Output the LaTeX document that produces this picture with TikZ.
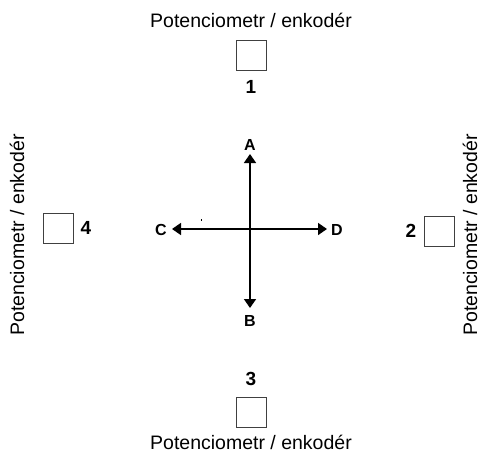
\documentclass[tikz,border=0pt]{standalone}
\usepackage{fontspec}
\setmainfont{Liberation Sans}
\usetikzlibrary{arrows.meta}
\begin{document}
\begin{tikzpicture}[x=1pt,y=-1pt,
  lbl/.style={font=\fontsize{19.5}{21}\selectfont, inner sep=0pt},
  num/.style={font=\fontsize{19}{21}\selectfont\bfseries, inner sep=0pt},
  dir/.style={font=\fontsize{16}{18}\selectfont\bfseries, inner sep=0pt},
  sq/.style={draw=black!75, line width=0.9pt, minimum width=30pt, minimum height=30pt, inner sep=0pt},
  axis/.style={line width=1.6pt, -{Triangle[width=12pt,length=9pt]}}]
\useasboundingbox (0,0) rectangle (483,453);
% top
\node[lbl] (t1) at (251,20) {Potenciometr / enkodér};
\node[sq] (s1) at (251,55) {};
\node[num] (n1) at (251,87) {1};
% bottom
\node[num] (n3) at (251,379) {3};
\node[sq] (s3) at (251,412) {};
\node[lbl] (t3) at (251,442) {Potenciometr / enkodér};
% left
\node[lbl, rotate=90] (t4) at (17,235) {Potenciometr / enkodér};
\node[sq] (s4) at (58,228) {};
\node[num] (n4) at (86,228) {4};
% right
\node[num] (n2) at (411,231) {2};
\node[sq] (s2) at (439,231) {};
\node[lbl, rotate=90] (t2) at (470,235) {Potenciometr / enkodér};
% cross
\coordinate (O) at (250,229);
\coordinate (tA) at (250,154);
\coordinate (tB) at (250,308);
\coordinate (tC) at (172,229);
\coordinate (tD) at (327,229);
\draw[axis] (O) -- (tA);
\draw[axis] (O) -- (tB);
\draw[axis] (O) -- (tC);
\draw[axis] (O) -- (tD);
\node[dir] (A) at (250,145) {A};
\node[dir] (B) at (250,321) {B};
\node[dir] (C) at (161,230) {C};
\node[dir] (D) at (337,230) {D};
\fill (201,218.5) rectangle (201.8,220.5);
\end{tikzpicture}
\end{document}
